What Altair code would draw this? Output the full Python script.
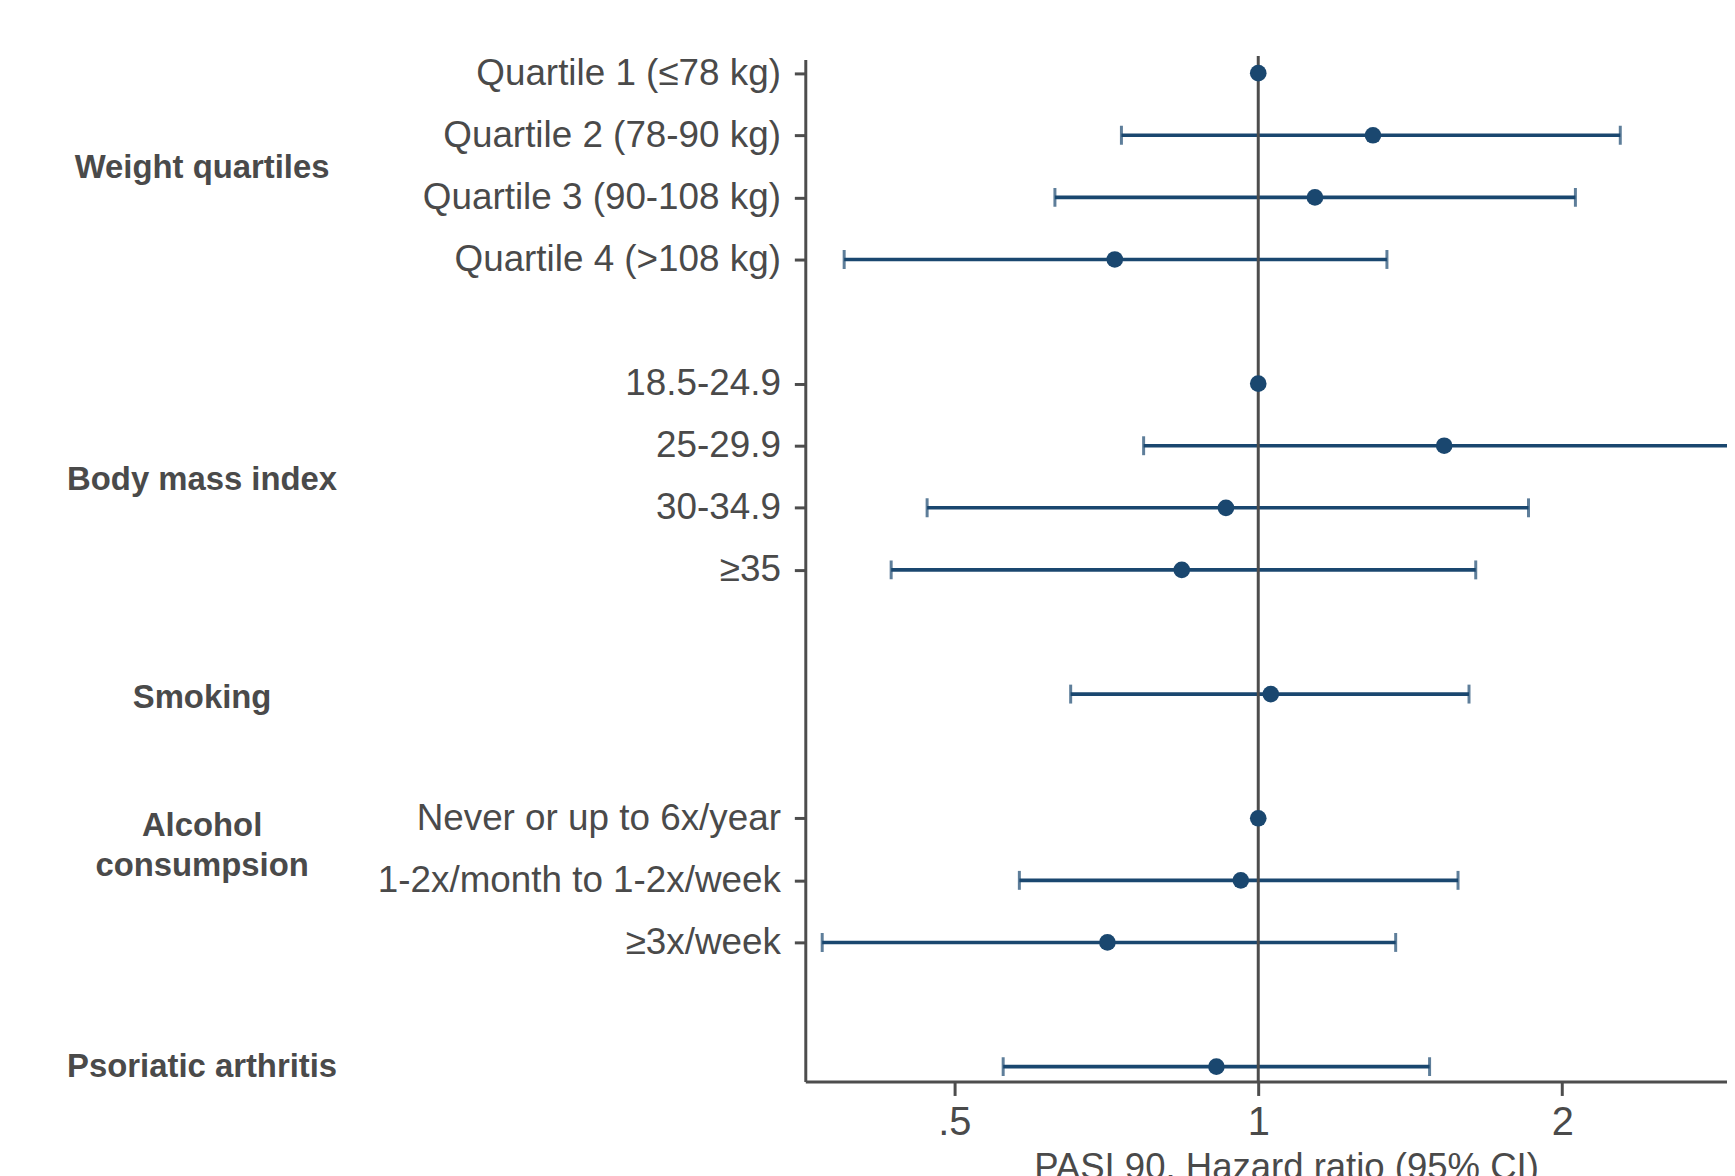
import altair as alt
import pandas as pd

# ---- data ----
row_labels = ["Quartile 1 (≤78 kg)", "Quartile 2 (78-90 kg)", "Quartile 3 (90-108 kg)", "Quartile 4 (>108 kg)",
              "18.5-24.9", "25-29.9", "30-34.9", "≥35",
              "Smoking",
              "Never or up to 6x/year", "1-2x/month to 1-2x/week", "≥3x/week",
              "Psoriatic arthritis"]
row_pos = [0, 1, 2, 3, 5, 6, 7, 8, 10, 12, 13, 14, 16]
hr = [1.0, 1.299, 1.138, 0.721, 1.0, 1.528, 0.929, 0.840, 1.029, 1.0, 0.961, 0.709, 0.909]
ci_lo = [None, 0.732, 0.629, 0.389, None, 0.770, 0.470, 0.433, 0.652, None, 0.580, 0.370, 0.559]
ci_hi = [None, 2.283, 2.061, 1.341, None, 3.03, 1.852, 1.642, 1.617, None, 1.577, 1.368, 1.478]

# y-axis tick labels (rows that carry a label)
tick_rows = [0, 1, 2, 3, 5, 6, 7, 8, 12, 13, 14]
tick_text = ["Quartile 1 (≤78 kg)", "Quartile 2 (78-90 kg)", "Quartile 3 (90-108 kg)", "Quartile 4 (>108 kg)",
             "18.5-24.9", "25-29.9", "30-34.9", "≥35",
             "Never or up to 6x/year", "1-2x/month to 1-2x/week", "≥3x/week"]

# group headings
group_text = ["Weight quartiles", "Body mass index", "Smoking", "Alcohol\nconsumpsion", "Psoriatic arthritis"]
group_pos = [1.535, 6.55, 10.07, 12.13, 16.0]

x_ticks = [0.5, 1, 2]
x_tick_text = [".5", "1", "2"]
x_title = "PASI 90. Hazard ratio (95% CI)"

# ---- styling ----
FONT = "Liberation Sans"
NAVY = "#1a476f"
GRAY = "#4d4d4d"
TXT = "#4a4a4a"

df = pd.DataFrame({"label": row_labels, "row": row_pos, "hr": hr, "lo": ci_lo, "hi": ci_hi})
groups = pd.DataFrame({"g": group_text, "row": group_pos})
ref = pd.DataFrame({"v": [1.0]})

ylab_expr = " : ".join(f"datum.value == {r} ? '{t}'" for r, t in zip(tick_rows, tick_text)) + " : ''"
xlab_expr = " : ".join(f"datum.value == {v} ? '{t}'" for v, t in zip(x_ticks, x_tick_text)) + " : ''"

H = 1026.8
xscale = alt.Scale(type="log", base=2, domain=[0.356, 2.912], nice=False)
yscale = alt.Scale(domain=[-0.221, 16.24], reverse=True, nice=False, zero=False)

xaxis = alt.Axis(values=x_ticks, labelExpr=xlab_expr, title=x_title, grid=False,
                 domainColor=GRAY, domainWidth=3, tickColor=GRAY, tickWidth=3, tickSize=14,
                 labelFont=FONT, labelFontSize=40, labelColor=TXT, labelPadding=7,
                 titleFont=FONT, titleFontSize=36.7, titleFontWeight="normal", titleColor=TXT,
                 titleX=483, titleY=97, titleAlign="center", titleBaseline="alphabetic")
yaxis = alt.Axis(values=tick_rows, labelExpr=ylab_expr, title=None, grid=False,
                 domainColor=GRAY, domainWidth=3, tickColor=GRAY, tickWidth=3, tickSize=11,
                 labelFont=FONT, labelFontSize=37, labelColor=TXT, labelPadding=14,
                 labelBaseline="middle", labelLimit=0)

base = alt.Chart(df)

bars = base.mark_rule(color=NAVY, strokeWidth=3.6, clip=True).transform_filter(
    "isValid(datum.lo)"
).encode(
    x=alt.X("lo:Q", scale=xscale, axis=xaxis),
    x2="hi:Q",
    y=alt.Y("row:Q", scale=yscale, axis=yaxis),
)

caps = base.transform_filter("isValid(datum.lo)").transform_fold(
    ["lo", "hi"], as_=["end", "val"]
).mark_tick(color=NAVY, orient="vertical", size=19, thickness=3, clip=True).encode(
    x=alt.X("val:Q", scale=xscale),
    y=alt.Y("row:Q", scale=yscale),
)

refline = alt.Chart(ref).mark_rule(color=GRAY, strokeWidth=3).encode(
    x=alt.X("v:Q", scale=xscale),
    y=alt.value(-3.5),
    y2=alt.value(H),
)

points = base.mark_circle(color=NAVY, size=280, opacity=1).encode(
    x=alt.X("hr:Q", scale=xscale),
    y=alt.Y("row:Q", scale=yscale),
)

heads = alt.Chart(groups).mark_text(
    font=FONT, fontSize=33, fontWeight="bold", color=TXT, align="center",
    baseline="middle", lineBreak="\n", lineHeight=40
).encode(
    x=alt.value(-606),
    y=alt.Y("row:Q", scale=yscale),
    text="g:N",
)

chart = alt.layer(bars, caps, refline, points, heads).properties(
    width=926,
    height=H,
    padding={"left": 801, "top": 49, "right": 0, "bottom": 92.2},
    autosize=alt.AutoSizeParams(type="none"),
    background="white",
).configure_view(stroke=None)

chart.save("out.html", embed_options={"renderer": "svg", "actions": False})
